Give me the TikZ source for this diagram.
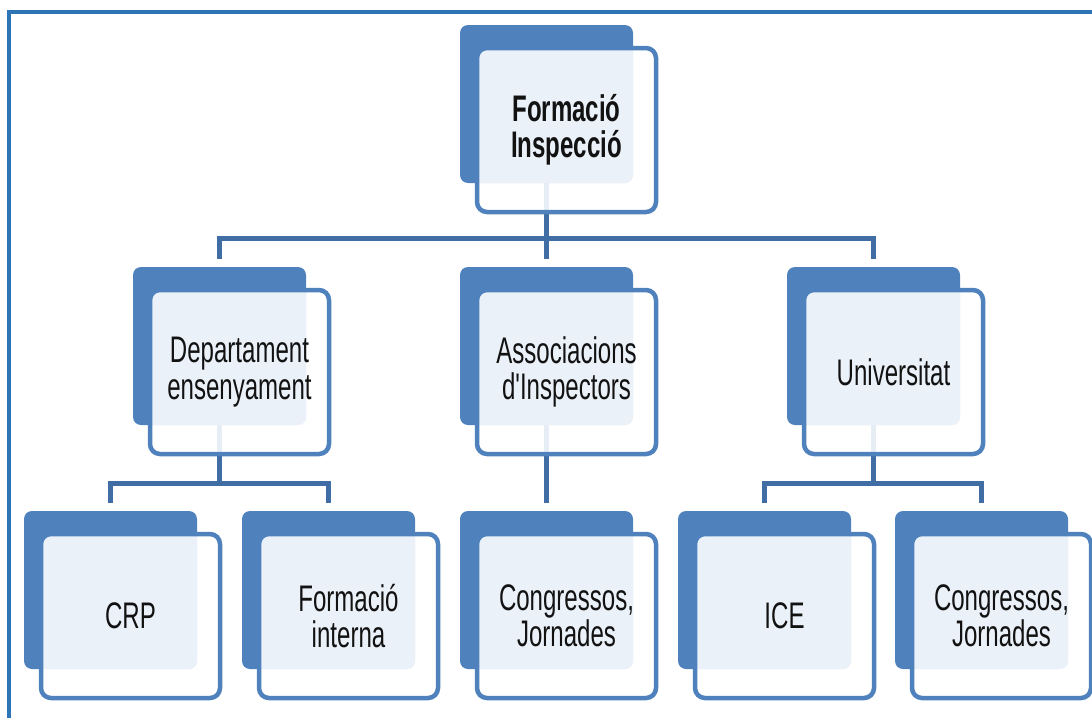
\documentclass[tikz,border=0pt]{standalone}
\usepackage{fontspec}
\usetikzlibrary{calc}
\newfontfamily\boxfont[FakeStretch=0.65]{Liberation Sans}

\definecolor{unitblue}{RGB}{79,129,189}
\definecolor{linkblue}{RGB}{65,109,165}
\definecolor{frameblue}{RGB}{46,117,182}
\definecolor{paleblue}{RGB}{235,241,249}
\definecolor{inkgray}{RGB}{18,18,18}

\pgfdeclarelayer{under}
\pgfdeclarelayer{mid}
\pgfsetlayers{under,mid,main}

\tikzset{
  backbox/.style={rectangle, rounded corners=8pt, fill=unitblue, inner sep=0pt,
    outer sep=0pt, minimum width=173pt, minimum height=158pt, anchor=north west},
  frontbox/.style={rectangle, rounded corners=10pt, draw=unitblue, line width=4.5pt,
    inner sep=0pt, outer sep=0pt, minimum width=179pt, minimum height=164pt,
    anchor=north west, align=center, text=inkgray,
    font=\boxfont\fontsize{37}{36.5}\selectfont},
  conn/.style={draw=linkblue, line width=5pt},
  frameline/.style={draw=frameblue, line width=4pt}
}

% one unit: dark back card, light front card carrying the label
\newcommand\orgunit[4]{%
  \begin{pgfonlayer}{under}
    \node[backbox] (#1b) at (#2,#3) {};
  \end{pgfonlayer}
  \node[frontbox] (#1) at ($(#1b.north west)+(17,23)$) {#4};
  \begin{pgfonlayer}{mid}
    \fill[white, opacity=0.88, rounded corners=10pt] (#1.north west) rectangle (#1.south east);
    \begin{scope}
      \clip[rounded corners=8pt] (#1b.north west) rectangle (#1b.south east);
      \fill[paleblue, rounded corners=8pt] ($(#1.north west)+(2.2,2.2)$) rectangle ($(#1.south east)+(-2.2,-2.2)$);
    \end{scope}
  \end{pgfonlayer}
}

\begin{document}
\begin{tikzpicture}[x=1pt, y=-1pt]
\useasboundingbox (0,0) rectangle (1092,718);

% page frame
\draw[frameline] (9,718) -- (9,11.5) -- (1092,11.5);

% units
\orgunit{top}{460}{25}{\bfseries Formació\\\bfseries Inspecció}
\orgunit{dept}{133}{267}{Departament\\ensenyament}
\orgunit{assoc}{460}{267}{Associacions\\d'Inspectors}
\orgunit{univ}{787}{267}{Universitat}
\orgunit{crp}{24}{511}{CRP}
\orgunit{fint}{242}{511}{Formació\\interna}
\orgunit{congA}{460}{511}{Congressos,\\Jornades}
\orgunit{ice}{678}{511}{ICE}
\orgunit{congB}{895}{511}{Congressos,\\Jornades}

% connectors
\coordinate (barA) at (546.5,238);
\coordinate (barB) at (219.5,483);
\coordinate (barC) at (873.5,483);
\begin{pgfonlayer}{under}
  \draw[conn, shorten >=8pt] (topb.south) -- (assocb.north);
  \draw[conn, shorten <=8pt, shorten >=8pt] (deptb.north) |- (barA) -| (univb.north);
  \draw[conn] (deptb.south) -- (barB);
  \draw[conn, shorten <=8pt, shorten >=8pt] (crpb.north) |- (barB) -| (fintb.north);
  \draw[conn, shorten >=8pt] (assocb.south) -- (congAb.north);
  \draw[conn] (univb.south) -- (barC);
  \draw[conn, shorten <=8pt, shorten >=8pt] (iceb.north) |- (barC) -| (congBb.north);
\end{pgfonlayer}
\end{tikzpicture}
\end{document}
